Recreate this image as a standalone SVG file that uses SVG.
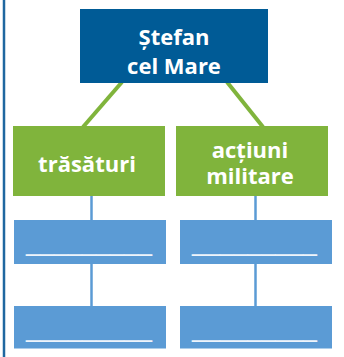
<svg xmlns="http://www.w3.org/2000/svg" width="344" height="357" viewBox="0 0 344 357">
<style>
.t{font-family:"Open Sans","Liberation Sans",sans-serif;font-weight:bold;font-size:22px;fill:#fff;text-anchor:middle}
.u{font-family:"Liberation Sans",sans-serif;font-size:25px;fill:#eef4fb}
.g{stroke:#80b43c;stroke-width:4}
.b{stroke:#5b9bd5;stroke-width:2.5}
.bl{fill:#5b9bd5}
.gr{fill:#80b43c}
</style>
<rect x="0" y="0" width="344" height="357" fill="#fff"/>
<line x1="4" y1="0" x2="4" y2="357" stroke="#1f67a0" stroke-width="2.5"/>
<g id="connectors">
<line class="g" x1="122" y1="82" x2="83" y2="127"/>
<line class="g" x1="227" y1="82" x2="263" y2="127"/>
<line class="b" x1="91.5" y1="196" x2="91.5" y2="220"/>
<line class="b" x1="255.5" y1="196" x2="255.5" y2="220"/>
<line class="b" x1="91.5" y1="263" x2="91.5" y2="306"/>
<line class="b" x1="255.5" y1="263" x2="255.5" y2="306"/>
</g>
<g id="stefan">
<rect x="80" y="9" width="188" height="74" fill="#005b96"/>
<text class="t" x="174" y="45">Ștefan</text>
<text class="t" x="174" y="74">cel Mare</text>
</g>
<g id="trasaturi">
<rect class="gr" x="13" y="126" width="152" height="70"/>
<text class="t" x="87" y="172">trăsături</text>
</g>
<g id="actiuni">
<rect class="gr" x="176" y="126" width="152" height="70"/>
<text class="t" x="250" y="158">acțiuni</text>
<text class="t" x="250" y="184">militare</text>
</g>
<g id="box1">
<rect class="bl" x="14" y="220" width="152" height="44"/>
<text class="u" x="26" y="251" textLength="126" lengthAdjust="spacingAndGlyphs">_________</text>
</g>
<g id="box2">
<rect class="bl" x="180" y="220" width="152" height="44"/>
<text class="u" x="192" y="251" textLength="125" lengthAdjust="spacingAndGlyphs">_________</text>
</g>
<g id="box3">
<rect class="bl" x="14" y="306" width="152" height="42.5"/>
<text class="u" x="26" y="336.5" textLength="126" lengthAdjust="spacingAndGlyphs">_________</text>
</g>
<g id="box4">
<rect class="bl" x="180" y="306" width="152" height="42.5"/>
<text class="u" x="192" y="336.5" textLength="125" lengthAdjust="spacingAndGlyphs">_________</text>
</g>
</svg>
